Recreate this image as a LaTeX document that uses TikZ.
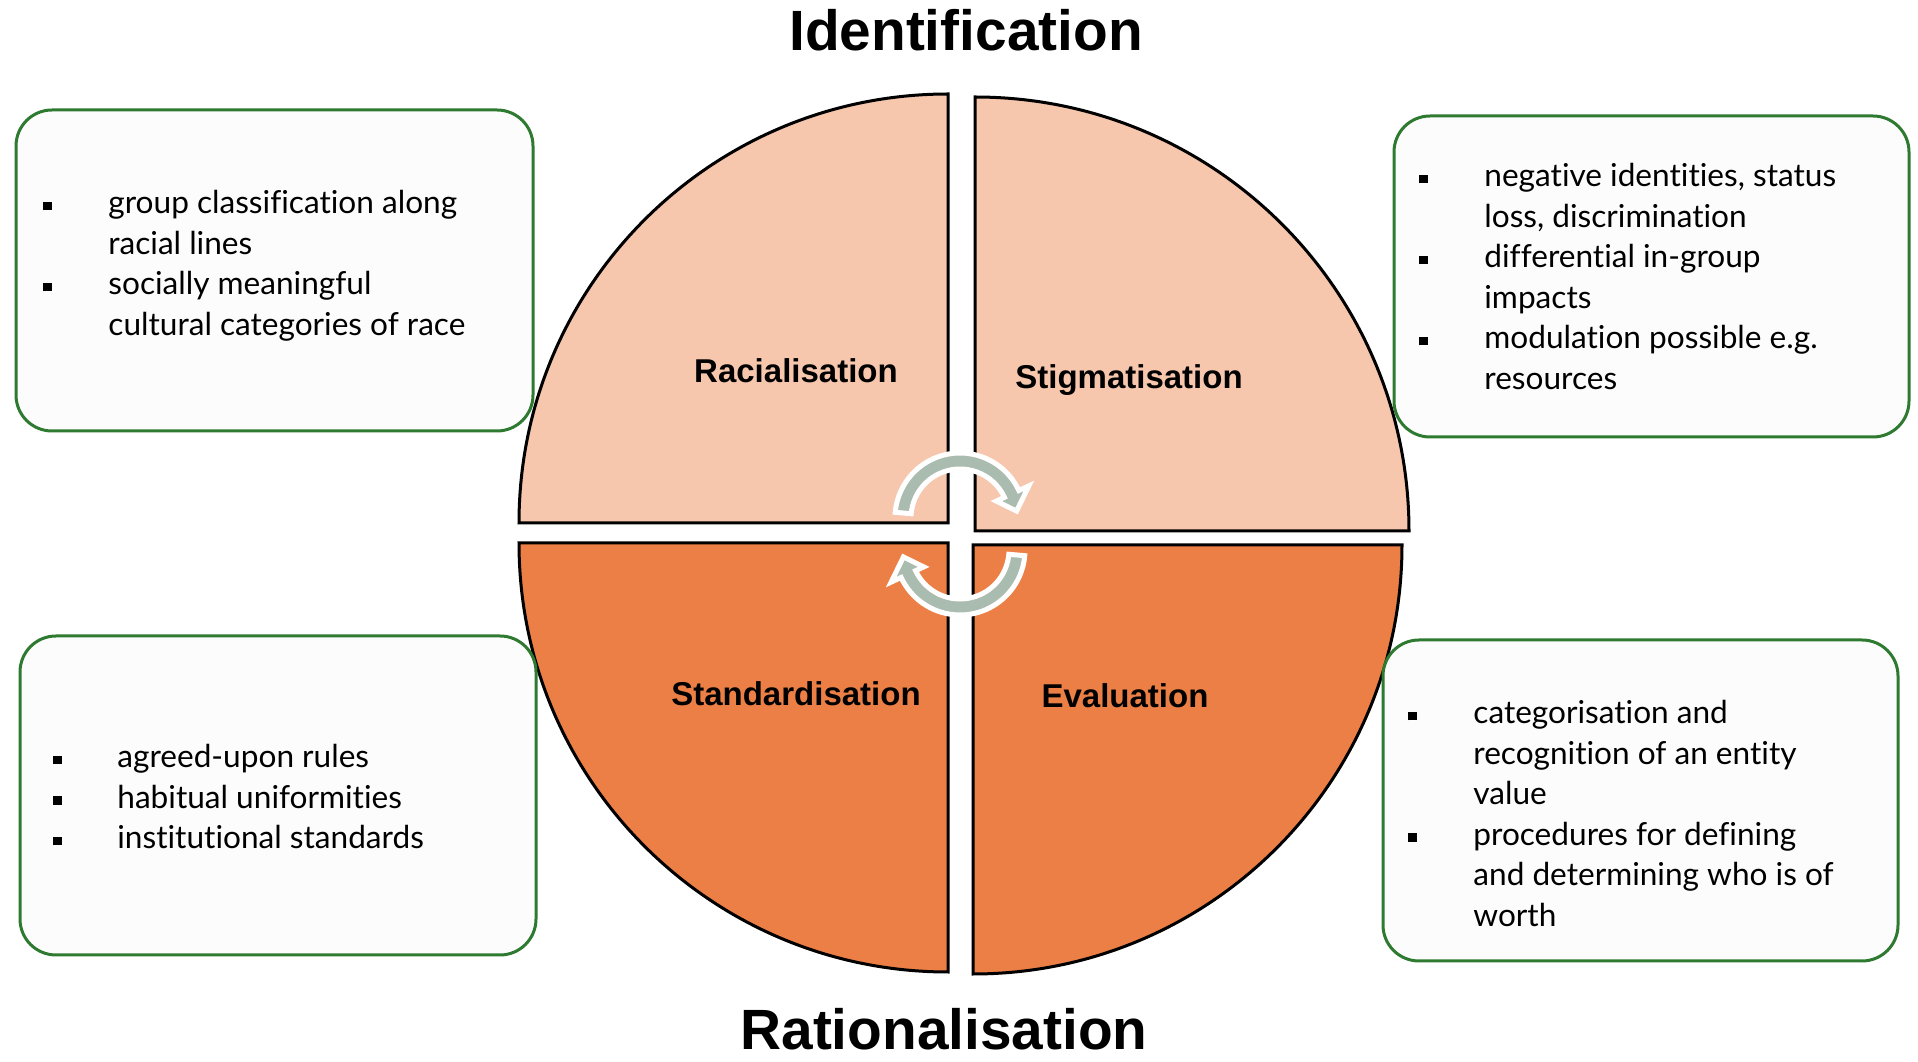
\documentclass[tikz,border=0pt]{standalone}
\usepackage{fontspec}
\setmainfont{Lato}[RawFeature={-liga;-dlig}]
\newfontfamily\headfont{Liberation Sans}
\definecolor{peach}{HTML}{F6C6AD}
\definecolor{orng}{HTML}{EC7F45}
\definecolor{boxgreen}{HTML}{2E7A30}
\definecolor{boxfill}{HTML}{FCFCFC}
\definecolor{cycfill}{HTML}{AABCAF}
\newcommand{\sqb}{\rule[1.8pt]{4.3pt}{4.3pt}}
\begin{document}
\begin{tikzpicture}[x=0.5pt,y=0.5pt,
  quad/.style={draw=black,line width=1.5pt,line join=miter},
  infobox/.style={draw=boxgreen,line width=1.5pt,fill=boxfill,rounded corners=18pt,inner sep=0pt},
  bodytext/.style={font=\fontsize{15.8pt}{20.25pt}\selectfont,anchor=base west,inner sep=0pt},
  qlabel/.style={font=\headfont\bfseries\fontsize{16.5pt}{20pt}\selectfont,anchor=base,inner sep=0pt},
  titletext/.style={font=\headfont\bfseries\fontsize{28.4pt}{33pt}\selectfont,anchor=base,inner sep=0pt},
  cycarrow/.pic={\path[fill=cycfill,draw=white,line width=2.5pt,line join=miter]
     (175:65) arc[start angle=175,end angle=25,radius=65] -- (25:76) -- (7:57) -- (25:40) -- (25:49)
     arc[start angle=25,end angle=175,radius=49] -- cycle;}
]
\useasboundingbox[fill=white] (0,0) rectangle (1918,1061);

% quadrants
\draw[quad,fill=peach] (948,538) -- (519,538) arc[start angle=180,end angle=90,radius=429] -- cycle;
\draw[quad,fill=peach] (975,530) -- (975,964) arc[start angle=90,end angle=0,radius=434] -- cycle;
\draw[quad,fill=orng] (948,518) -- (519,518) arc[start angle=180,end angle=270,radius=429] -- cycle;
\draw[quad,fill=orng] (973,516) -- (1402,516) arc[start angle=0,end angle=-90,radius=429] -- cycle;

% cycle arrows
\pic at (960,543) {cycarrow};
\pic[rotate=180] at (960,511) {cycarrow};

% quadrant labels
\node[qlabel] (lRac) at (796,678) {Racialisation};
\node[qlabel] (lStig) at (1129,672) {Stigmatisation};
\node[qlabel] (lStd) at (796,355) {Standardisation};
\node[qlabel] (lEval) at (1125,353) {Evaluation};

% titles
\node[titletext] (tIdent) at (966,1010) {Identification};
\node[titletext] (tRat) at (944,11) {Rationalisation};

% boxes
\node[infobox,minimum width=258.5pt,minimum height=160.5pt] (boxTL) at (274.5,790.5) {};
\node[infobox,minimum width=257.5pt,minimum height=160.5pt] (boxTR) at (1651.5,784.5) {};
\node[infobox,minimum width=258pt,minimum height=159.5pt] (boxBL) at (278,265.5) {};
\node[infobox,minimum width=257.5pt,minimum height=160.5pt] (boxBR) at (1640.5,260.5) {};

% box texts
\node[bodytext] (txtTL) at (43,847) {\begin{tabular}[t]{@{}p{32.5pt}@{}l@{}}
\sqb & group classification along\\
 & racial lines\\
\sqb & socially meaningful\\
 & cultural categories of race
\end{tabular}};
\node[bodytext] (txtTR) at (1419,874) {\begin{tabular}[t]{@{}p{32.5pt}@{}l@{}}
\sqb & negative identities, status\\
 & loss, discrimination\\
\sqb & differential in-group\\
 & impacts\\
\sqb & modulation possible e.g.\\
 & resources
\end{tabular}};
\node[bodytext] (txtBL) at (53,293) {\begin{tabular}[t]{@{}p{32pt}@{}l@{}}
\sqb & agreed-upon rules\\
\sqb & habitual uniformities\\
\sqb & institutional standards
\end{tabular}};
\node[bodytext] (txtBR) at (1408,337) {\begin{tabular}[t]{@{}p{32.5pt}@{}l@{}}
\sqb & categorisation and\\
 & recognition of an entity\\
 & value\\
\sqb & procedures for defining\\
 & and determining who is of\\
 & worth
\end{tabular}};
\end{tikzpicture}
\end{document}
